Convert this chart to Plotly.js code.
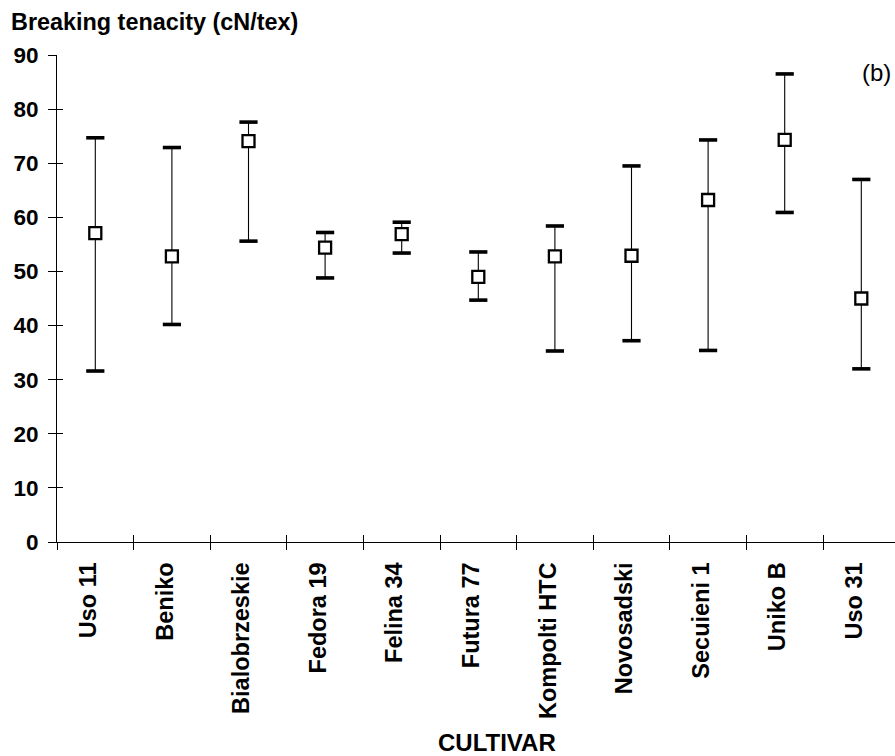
<!DOCTYPE html>
<html>
<head>
<meta charset="utf-8">
<script src="https://cdn.plot.ly/plotly-3.0.1.min.js"></script>
<style>html,body{margin:0;padding:0;background:#fff;}#chart{width:895px;height:756px;}</style>
</head>
<body>
<div id="chart"></div>
<script>
const cultivars = ["Uso 11","Beniko","Bialobrzeskie","Fedora 19","Felina 34","Futura 77","Kompolti HTC","Novosadski","Secuieni 1","Uniko B","Uso 31"];
const meanVals = [57.1, 52.8, 74.1, 54.4, 56.9, 49.0, 52.8, 52.9, 63.2, 74.3, 45.0];
const maxVals  = [74.7, 72.9, 77.6, 57.2, 59.1, 53.6, 58.4, 69.5, 74.3, 86.5, 67.0];
const minVals  = [31.6, 40.2, 55.6, 48.8, 53.4, 44.7, 35.3, 37.2, 35.4, 60.9, 32.0];
const yTicks = [0,10,20,30,40,50,60,70,80,90];

const font = "Liberation Sans, Arial, sans-serif";

const stems = {
  type: "scatter", mode: "markers", x: cultivars, y: meanVals,
  marker: {size: 1, opacity: 0},
  error_y: {type: "data", symmetric: false,
    array: maxVals.map((v,i)=>v-meanVals[i]),
    arrayminus: meanVals.map((v,i)=>v-minVals[i]),
    thickness: 1.1, width: 0, color: "#000"},
  hoverinfo: "skip", showlegend: false
};
const caps = {
  type: "scatter", mode: "markers",
  x: cultivars.concat(cultivars), y: maxVals.concat(minVals),
  marker: {symbol: "line-ew", size: 13, line: {width: 3.6, color: "#000"}, color: "#000"},
  hoverinfo: "skip", showlegend: false
};
const means = {
  type: "scatter", mode: "markers", x: cultivars, y: meanVals,
  marker: {symbol: "square", size: 12, color: "#fff", line: {width: 2.3, color: "#000"}},
  showlegend: false
};
const ghost = {
  type: "scatter", mode: "markers", x: cultivars, y: meanVals,
  xaxis: "x2", yaxis: "y2", marker: {opacity: 0, size: 1},
  hoverinfo: "skip", showlegend: false
};

const xr = [-0.5, 10.44];
const layout = {
  width: 895, height: 756,
  margin: {l: 57, r: 0, t: 55, b: 214},
  paper_bgcolor: "#fff", plot_bgcolor: "#fff",
  font: {family: font, color: "#000"},
  xaxis: {
    type: "category", categoryorder: "array", categoryarray: cultivars,
    range: xr, tickson: "boundaries", ticks: "outside", ticklen: 7, tickwidth: 1, tickcolor: "#000",
    showline: true, linecolor: "#000", linewidth: 1, showgrid: false, zeroline: false,
    tickangle: -90, ticklabelstandoff: 10, ticklabelshift: -7,
    tickfont: {family: font, size: 23.5, color: "#000", weight: "bold"},
    fixedrange: true
  },
  xaxis2: {
    type: "category", categoryorder: "array", categoryarray: cultivars,
    overlaying: "x", anchor: "y", side: "bottom",
    range: xr, tickson: "boundaries", ticks: "inside", ticklen: 7, tickwidth: 1, tickcolor: "#000",
    showline: false, showgrid: false, zeroline: false, showticklabels: false
  },
  yaxis: {
    range: [0, 90], tickvals: yTicks, ticktext: yTicks.map(String),
    ticks: "outside", ticklen: 8, tickwidth: 1, tickcolor: "#000",
    showline: true, linecolor: "#000", linewidth: 1, showgrid: false, zeroline: false,
    ticklabelstandoff: 5,
    tickfont: {family: font, size: 22.5, color: "#000", weight: "bold"},
    fixedrange: true
  },
  yaxis2: {
    range: [0, 90], tickvals: yTicks, overlaying: "y", anchor: "x", side: "left",
    ticks: "inside", ticklen: 6, tickwidth: 1, tickcolor: "#000",
    showline: false, showgrid: false, zeroline: false, showticklabels: false
  },
  annotations: [
    {text: "<b>Breaking tenacity (cN/tex)</b>", xref: "paper", yref: "paper", x: -0.057, y: 1.068,
     xanchor: "left", yanchor: "middle", showarrow: false, font: {family: font, size: 23.4, color: "#000"}},
    {text: "(b)", xref: "paper", yref: "paper", x: 0.9976, y: 0.965, xanchor: "right", yanchor: "middle",
     showarrow: false, font: {family: font, size: 24, color: "#000"}},
    {text: "<b>CULTIVAR</b>", xref: "paper", yref: "paper", x: 0.525, y: -0.4127, xanchor: "center", yanchor: "middle",
     showarrow: false, font: {family: font, size: 24, color: "#000"}}
  ]
};

Plotly.newPlot("chart", [stems, caps, means, ghost], layout, {displayModeBar: false, staticPlot: true});
</script>
</body>
</html>
